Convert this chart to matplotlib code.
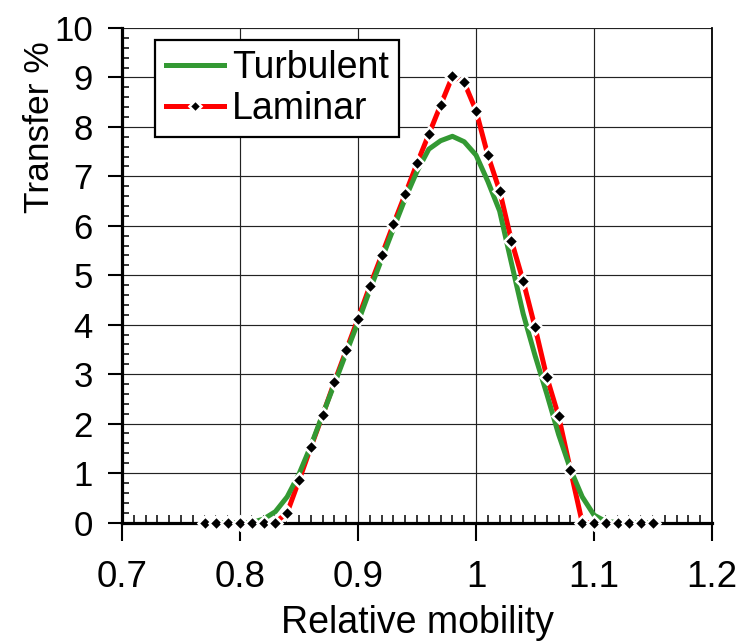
import matplotlib
matplotlib.use("Agg")
import matplotlib.pyplot as plt
from matplotlib.lines import Line2D
from matplotlib.ticker import MultipleLocator

plt.rcParams['font.family'] = ['Liberation Sans', 'DejaVu Sans']

# ---- data ----
mobility = [0.77, 0.78, 0.79, 0.80, 0.81, 0.82, 0.83, 0.84, 0.85, 0.86,
            0.87, 0.88, 0.89, 0.90, 0.91, 0.92, 0.93, 0.94, 0.95, 0.96,
            0.97, 0.98, 0.99, 1.00, 1.01, 1.02, 1.03, 1.04, 1.05, 1.06,
            1.07, 1.08, 1.09, 1.10, 1.11, 1.12, 1.13, 1.14, 1.15]

turbulent = [0, 0, 0, 0, 0, 0.07, 0.22, 0.52, 0.98, 1.55,
             2.18, 2.80, 3.43, 4.05, 4.70, 5.32, 5.94, 6.55, 7.10, 7.55,
             7.72, 7.81, 7.70, 7.43, 6.90, 6.30, 5.25, 4.22, 3.38, 2.60,
             1.78, 1.08, 0.52, 0.15, 0.02, 0, 0, 0, 0]

laminar = [0, 0, 0, 0, 0, 0, 0, 0.20, 0.85, 1.52,
           2.17, 2.84, 3.48, 4.12, 4.78, 5.40, 6.03, 6.64, 7.26, 7.85,
           8.44, 9.02, 8.90, 8.33, 7.43, 6.71, 5.70, 4.88, 3.95, 2.94,
           2.15, 1.07, 0, 0, 0, 0, 0, 0, 0]

series_names = ["Turbulent", "Laminar"]
x_ticks = [0.7, 0.8, 0.9, 1.0, 1.1, 1.2]
x_tick_labels = ["0.7", "0.8", "0.9", "1", "1.1", "1.2"]
y_ticks = list(range(0, 11))
x_label = "Relative mobility"
y_label = "Transfer %"

GREEN = "#339933"
RED = "#ff0000"

fig = plt.figure(figsize=(7.42, 6.41), dpi=100)
ax = fig.add_axes([122 / 742, 1 - 522.5 / 641, 590 / 742, 494.5 / 641])

ax.set_xlim(0.7, 1.2)
ax.set_ylim(0, 10)

# lines
ax.plot(mobility, laminar, color=RED, lw=3.6, zorder=2, solid_capstyle='butt')
ax.plot(mobility, turbulent, color=GREEN, lw=3.6, zorder=2.2)
ax.plot(mobility, laminar, ls='none', marker='D', ms=7.5, mfc='black',
        mec='white', mew=1.8, zorder=4, clip_on=False)

# grid
ax.grid(True, which='major', color='#222222', lw=0.85, zorder=0)
ax.set_axisbelow(True)

# spines
for s in ['left', 'bottom']:
    ax.spines[s].set_linewidth(2.3)
    ax.spines[s].set_zorder(3)
ax.spines['top'].set_visible(False)
ax.spines['right'].set_linewidth(1.3)

# ticks
ax.set_xticks(x_ticks)
ax.set_xticklabels(x_tick_labels)
ax.set_yticks(y_ticks)
ax.xaxis.set_minor_locator(MultipleLocator(0.01))
ax.yaxis.set_minor_locator(MultipleLocator(0.2))
ax.tick_params(axis='x', which='major', direction='out', length=13, width=1.5,
               pad=14, labelsize=26.5)
ax.tick_params(axis='y', which='major', direction='out', length=10, width=1.5,
               pad=11, labelsize=25)
ax.tick_params(axis='x', which='minor', direction='in', length=6, width=1.1)
ax.tick_params(axis='y', which='minor', direction='in', length=5, width=1.1)
ax.tick_params(top=False, right=False, which='both')

ax.set_xlabel(x_label, fontsize=27)
ax.set_ylabel(y_label, fontsize=25.5)
ax.xaxis.set_label_coords(0.5, -0.166)
ax.yaxis.set_label_coords(-0.112, 0.80)

handles = [
    Line2D([], [], color=GREEN, lw=3.6),
    Line2D([], [], color=RED, lw=3.6, marker='D', ms=6.5, mfc='black',
           mec='white', mew=1.8),
]
leg = ax.legend(handles, series_names, loc='upper left',
                bbox_to_anchor=(0.056, 0.976), borderaxespad=0,
                fontsize=27, frameon=True, fancybox=False, shadow=False,
                handlelength=1.55, handletextpad=0.22, borderpad=0.28,
                labelspacing=0.12)
leg.get_frame().set_edgecolor('black')
leg.get_frame().set_linewidth(1.6)
leg.get_frame().set_alpha(1)
leg.set_zorder(5)

fig.savefig("out.png", dpi=100)
